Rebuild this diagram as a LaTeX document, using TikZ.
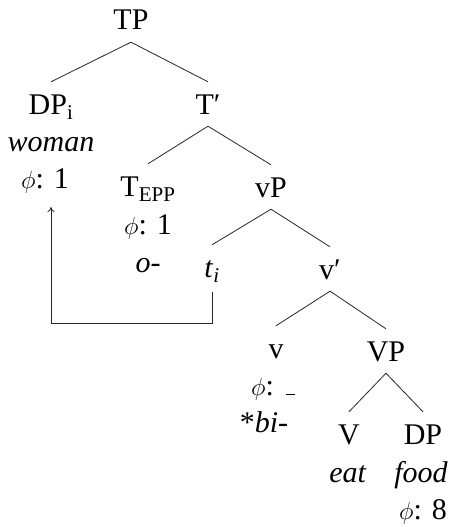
\documentclass[tikz,border=0pt]{standalone}
\usepackage{fontspec}
\setmainfont{Liberation Serif}
\newfontfamily\tms{Liberation Serif}
\usetikzlibrary{arrows.meta}
\begin{document}
\begin{tikzpicture}[x=1pt,y=-1pt,
  every node/.style={font=\tms\fontsize{30}{36}\selectfont},
  cat/.style={anchor=base, text height=20pt, text depth=0pt, inner xsep=0pt, inner ysep=12pt},
  feat/.style={anchor=base, inner sep=0pt},
  edge/.style={line width=0.8pt, black!85},
  movearrow/.style={line width=0.8pt, black!85, -{To[length=5pt,width=7pt]}}]
\useasboundingbox (0,0) rectangle (453,527);
% level 0
\node[cat] (TP) at (131,30) {TP};
% level 1
\node[cat] (DPi) at (51,114) {DP\textsubscript{i}};
\node[cat] (T1) at (208,114) {T′};
\node[feat] (woman) at (51,151) {\textit{woman}};
\node[feat] (phiA) at (45,188) {$\phi$: 1};
% level 2
\node[cat] (TE) at (148,196) {T\textsubscript{EPP}};
\node[cat] (vP) at (271,197) {vP};
\node[feat] (phiT) at (148,234) {$\phi$: 1};
\node[feat] (o) at (148,272) {\textit{o-}};
% level 3
\node[cat] (ti) at (212,277) {\textit{t}\textsubscript{\textit{i}}};
\node[cat] (v1) at (330,279) {v′};
% level 4
\node[cat] (v) at (276,358) {v};
\node[cat] (VP) at (386,361) {VP};
\node[feat] (phiv) at (273,395) {$\phi$:\hspace{12pt}\rule{9pt}{0.9pt}};
\node[feat] (bi) at (264,432) {*\textit{bi-}};
% level 5
\node[cat] (V) at (349,444) {V};
\node[cat] (DP) at (423,444) {DP};
\node[feat] (eat) at (348,482) {\textit{eat}};
\node[feat] (food) at (421,482) {\textit{food}};
\node[feat] (phiD) at (423,519) {$\phi$: 8};
% edges
\draw[edge] (TP.south) -- (DPi.north);
\draw[edge] (TP.south) -- (T1.north);
\draw[edge] (T1.south) -- (TE.north);
\draw[edge] (T1.south) -- (vP.north);
\draw[edge] (vP.south) -- (ti.north);
\draw[edge] (vP.south) -- (v1.north);
\draw[edge] (v1.south) -- (v.north);
\draw[edge] (v1.south) -- (VP.north);
\draw[edge] (VP.south) -- (V.north);
\draw[edge] (VP.south) -- (DP.north);
% movement arrow
\coordinate (tipA) at (51,207);
\draw[movearrow] ([yshift=-3pt]ti.south) -- ++(0,31) -| (tipA);
\end{tikzpicture}
\end{document}
